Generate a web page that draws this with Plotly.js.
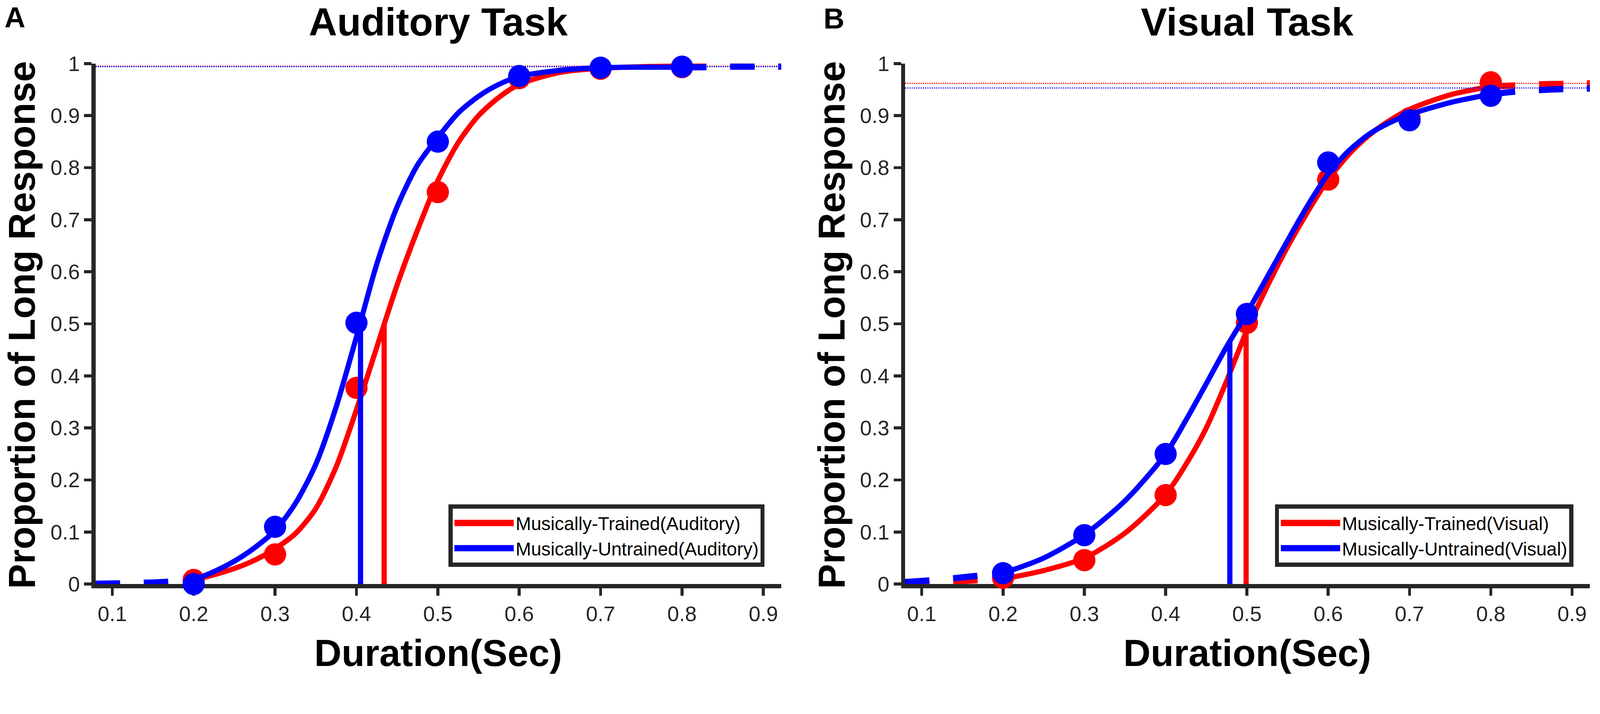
<!DOCTYPE html>
<html>
<head>
<meta charset="utf-8">
<script src="https://cdn.plot.ly/plotly-3.0.1.min.js"></script>
<style>
  html, body { margin: 0; padding: 0; background: #fff; overflow: hidden; }
  #chart { width: 4317px; height: 1829px; transform-origin: 0 0; }
</style>
</head>
<body>
<div id="chart"></div>
<script>
// measured points (proportion of "long" responses per duration)
const durations = [0.2, 0.3, 0.4, 0.5, 0.6, 0.7, 0.8];
const audTrained = [0.008, 0.057, 0.377, 0.753, 0.972, 0.990, 0.993];
const audUntrained = [0.0, 0.110, 0.502, 0.850, 0.976, 0.992, 0.994];
const visTrained = [0.012, 0.046, 0.171, 0.502, 0.777, 0.895, 0.964];
const visUntrained = [0.021, 0.094, 0.250, 0.519, 0.810, 0.891, 0.938];

// fitted curves (solid part 0.2 - 0.8)
const audFitX = [0.2, 0.225, 0.25, 0.275, 0.3, 0.325, 0.35, 0.375, 0.4, 0.425, 0.45, 0.475, 0.5, 0.525, 0.55, 0.575, 0.6, 0.65, 0.7, 0.75, 0.8];
const audTrainedFit = [0.008, 0.018, 0.030, 0.046, 0.068, 0.097, 0.145, 0.225, 0.335, 0.455, 0.575, 0.680, 0.775, 0.848, 0.900, 0.935, 0.960, 0.983, 0.991, 0.994, 0.995];
const audUntrainedFit = [0.008, 0.024, 0.044, 0.070, 0.103, 0.155, 0.230, 0.340, 0.475, 0.615, 0.725, 0.805, 0.858, 0.905, 0.937, 0.960, 0.975, 0.987, 0.992, 0.993, 0.993];

const visFitX = [0.2, 0.25, 0.3, 0.35, 0.4, 0.425, 0.45, 0.475, 0.5, 0.525, 0.55, 0.575, 0.6, 0.625, 0.65, 0.675, 0.7, 0.75, 0.8];
const visTrainedFit = [0.010, 0.026, 0.050, 0.098, 0.172, 0.230, 0.300, 0.390, 0.488, 0.572, 0.648, 0.716, 0.777, 0.825, 0.862, 0.890, 0.912, 0.940, 0.956];
const visUntrainedFit = [0.021, 0.050, 0.095, 0.160, 0.250, 0.315, 0.385, 0.456, 0.521, 0.590, 0.660, 0.728, 0.788, 0.832, 0.864, 0.886, 0.902, 0.925, 0.941];

// dashed extrapolation of the fits
const lowTailX = [0.0795, 0.1, 0.125, 0.15, 0.175, 0.2];
const highTailX = [0.8, 0.83, 0.86, 0.89, 0.922];
const audTrainedLow = [0.0003, 0.0006, 0.001, 0.002, 0.004, 0.008];
const audUntrainedLow = [0.0005, 0.001, 0.002, 0.003, 0.005, 0.008];
const audTrainedHigh = [0.995, 0.995, 0.995, 0.995, 0.995];
const audUntrainedHigh = [0.993, 0.993, 0.994, 0.994, 0.994];
const visTrainedLow = [0.001, 0.002, 0.004, 0.006, 0.008, 0.010];
const visUntrainedLow = [0.004, 0.006, 0.009, 0.013, 0.017, 0.021];
const visTrainedHigh = [0.956, 0.958, 0.960, 0.961, 0.962];
const visUntrainedHigh = [0.941, 0.946, 0.949, 0.951, 0.952];

// 50% points (PSE) and upper asymptotes  [trained, untrained]
const audPse = [0.434, 0.405];
const audPseTop = [0.499, 0.5];
const visPse = [0.499, 0.479];
const visPseTop = [0.49, 0.466];
const audLapse = [0.995, 0.994];
const visLapse = [0.962, 0.953];

const xTicks = [0.1, 0.2, 0.3, 0.4, 0.5, 0.6, 0.7, 0.8, 0.9];
const xTickLabels = ['0.1', '0.2', '0.3', '0.4', '0.5', '0.6', '0.7', '0.8', '0.9'];
const yTicks = [0, 0.1, 0.2, 0.3, 0.4, 0.5, 0.6, 0.7, 0.8, 0.9, 1];
const yTickLabels = ['0', '0.1', '0.2', '0.3', '0.4', '0.5', '0.6', '0.7', '0.8', '0.9', '1'];
const xRange = [0.0795, 0.922];

const RED = '#ff0000';
const BLUE = '#0000ff';
const INK = '#262626';
const FONT = 'Liberation Sans, Arial, Helvetica, sans-serif';

function group(xa, ya, legend, color, name, pts, fitY, fitX, low, high, pse, pseTop, lapse) {
    return [
        {   // horizontal asymptote
            x: xRange, y: [lapse, lapse], xaxis: xa, yaxis: ya,
            mode: 'lines', line: { color: color, width: 3, dash: 'dot' },
            showlegend: false, hoverinfo: 'skip'
        },
        {
            x: durations, y: pts, xaxis: xa, yaxis: ya,
            mode: 'markers', marker: { color: color, size: 60 },
            cliponaxis: false, showlegend: false
        },
        {
            x: fitX, y: fitY, xaxis: xa, yaxis: ya, name: name, legend: legend,
            mode: 'lines', line: { color: color, width: 14, shape: 'spline', smoothing: 0.8 }
        },
        {
            x: lowTailX, y: low, xaxis: xa, yaxis: ya,
            mode: 'lines', line: { color: color, width: 17, dash: '66px,64px', shape: 'spline' },
            showlegend: false
        },
        {
            x: highTailX, y: high, xaxis: xa, yaxis: ya,
            mode: 'lines', line: { color: color, width: 17, dash: '66px,64px', shape: 'spline' },
            showlegend: false
        },
        {   // PSE marker line
            x: [pse, pse], y: [0, pseTop], xaxis: xa, yaxis: ya,
            mode: 'lines', line: { color: color, width: 14 },
            showlegend: false
        }
    ];
}

const data = [].concat(
    group('x', 'y', 'legend', RED, 'Musically-Trained(Auditory)', audTrained, audTrainedFit, audFitX,
          audTrainedLow, audTrainedHigh, audPse[0], audPseTop[0], audLapse[0]),
    group('x', 'y', 'legend', BLUE, 'Musically-Untrained(Auditory)', audUntrained, audUntrainedFit, audFitX,
          audUntrainedLow, audUntrainedHigh, audPse[1], audPseTop[1], audLapse[1]),
    group('x2', 'y2', 'legend2', RED, 'Musically-Trained(Visual)', visTrained, visTrainedFit, visFitX,
          visTrainedLow, visTrainedHigh, visPse[0], visPseTop[0], visLapse[0]),
    group('x2', 'y2', 'legend2', BLUE, 'Musically-Untrained(Visual)', visUntrained, visUntrainedFit, visFitX,
          visUntrainedLow, visUntrainedHigh, visPse[1], visPseTop[1], visLapse[1])
);

const xAxisStyle = {
    range: xRange, tickvals: xTicks, ticktext: xTickLabels,
    showgrid: false, zeroline: false, showline: true,
    linecolor: INK, linewidth: 11,
    ticks: 'outside', ticklen: 20, tickwidth: 8, tickcolor: INK,
    tickfont: { family: FONT, size: 57, color: INK },
    layer: 'below traces', fixedrange: true
};
const yAxisStyle = {
    range: [0, 1], tickvals: yTicks, ticktext: yTickLabels,
    showgrid: false, zeroline: false, showline: true,
    linecolor: INK, linewidth: 11,
    ticks: 'outside', ticklen: 20, tickwidth: 8, tickcolor: INK,
    tickfont: { family: FONT, size: 57, color: INK },
    layer: 'below traces', fixedrange: true
};

const legendStyle = {
    xanchor: 'right', yanchor: 'bottom',
    bgcolor: '#ffffff', bordercolor: INK, borderwidth: 11,
    font: { family: FONT, size: 50, color: '#000' },
    itemwidth: 160, tracegroupgap: 0
};

function label(text, x, y, size, angle) {
    return {
        text: text, x: x, y: y, xref: 'paper', yref: 'paper',
        xanchor: 'center', yanchor: 'middle', showarrow: false,
        textangle: angle || 0,
        font: { family: FONT, size: size, color: '#000', weight: 'bold' }
    };
}

const layout = {
    width: 4317, height: 1829,
    margin: { l: 0, r: 0, t: 0, b: 0 },
    paper_bgcolor: '#ffffff', plot_bgcolor: '#ffffff',
    xaxis: Object.assign({ domain: [0.05976, 0.4883], anchor: 'y' }, xAxisStyle),
    yaxis: Object.assign({ domain: [0.1378, 0.9062], anchor: 'x' }, yAxisStyle),
    xaxis2: Object.assign({ domain: [0.56567, 0.99375], anchor: 'y2' }, xAxisStyle),
    yaxis2: Object.assign({ domain: [0.1378, 0.9062], anchor: 'x2' }, yAxisStyle),
    legend: Object.assign({ x: 0.4779, y: 0.1635 }, legendStyle),
    legend2: Object.assign({ x: 0.9833, y: 0.1635 }, legendStyle),
    annotations: [
        label('A', 0.0093, 0.9743, 78),
        label('B', 0.5212, 0.9727, 78),
        label('Auditory Task', 0.274, 0.9675, 106),
        label('Visual Task', 0.7797, 0.9675, 106),
        label('Duration(Sec)', 0.274, 0.0361, 102),
        label('Duration(Sec)', 0.7797, 0.0361, 102),
        label('Proportion of Long Response', 0.01367, 0.52, 101, -90),
        label('Proportion of Long Response', 0.5196, 0.52, 101, -90)
    ]
};

// fit the fixed-size figure into whatever viewport the page gets
const fit = Math.min(window.innerWidth / 4317, window.innerHeight / 1829, 1);
document.getElementById('chart').style.transform = 'scale(' + fit + ')';

Plotly.newPlot('chart', data, layout, { staticPlot: true }).then(function (gd) {
    // plotly caps legend line width; the original legend uses thick lines
    gd.querySelectorAll('.legendlines path').forEach(function (p) {
        p.style.strokeWidth = '17px';
    });
});
</script>
</body>
</html>
